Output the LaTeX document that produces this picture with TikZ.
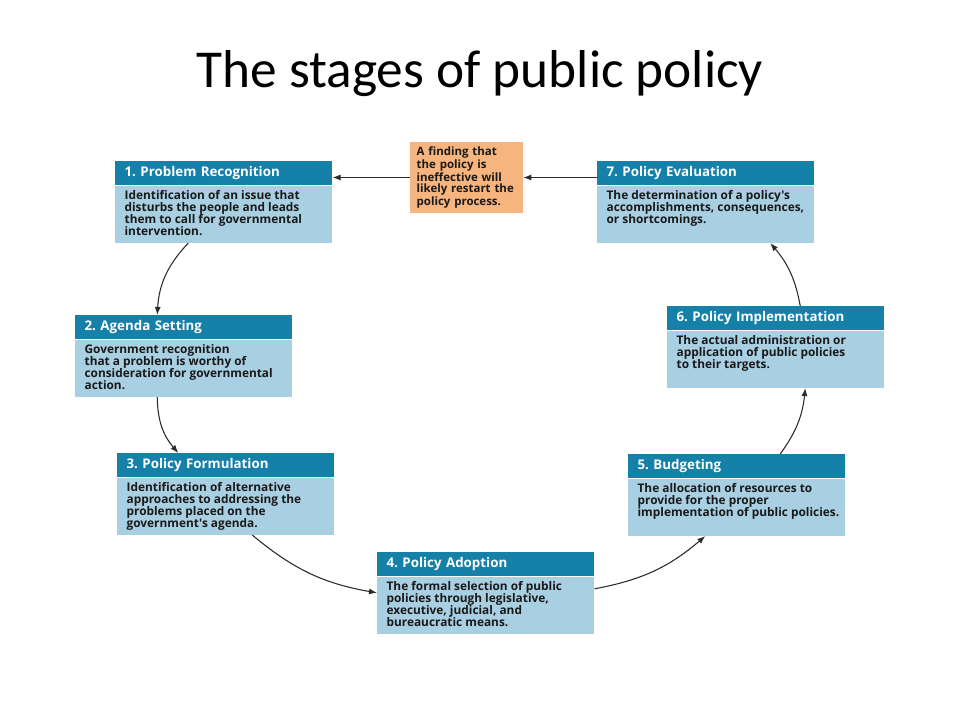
\documentclass[tikz,border=0pt]{standalone}
\usepackage{fontspec}
\setmainfont{Carlito}
\newfontfamily\boxfont{Open Sans}
\usetikzlibrary{positioning,arrows.meta}
\definecolor{headblue}{HTML}{1580A8}
\definecolor{bodyblue}{HTML}{A9CFE2}
\definecolor{findorange}{HTML}{F6B47E}
\definecolor{inkgray}{HTML}{2B2B2B}
\frenchspacing

\begin{document}
\begin{tikzpicture}[x=0.75pt,y=-0.75pt,
  head/.style={fill=headblue, text=white, anchor=north west, align=left,
    font=\boxfont\bfseries\fontsize{10}{10}\selectfont,
    text width=148.75pt, inner xsep=7pt, inner ysep=0pt, minimum height=18pt},
  body/.style={fill=bodyblue, text=black!90, inner xsep=7pt, inner ysep=3.4pt,
    font=\boxfont\bfseries\fontsize{8.9}{9}\selectfont,
    execute at begin node={\begin{minipage}[t][35.95pt][t]{148.75pt}\raggedright},
    execute at end node={\end{minipage}}},
  direct/.style={draw=inkgray, line width=0.8pt, -{Latex[length=6pt,width=4.5pt]}}]
\path[use as bounding box, fill=white] (0,0) rectangle (960,720);
\node[font=\fontsize{40}{48}\selectfont, anchor=base] (title) at (480,88) {The stages of public policy};

\node[head] (h1) at (115,161) {1. Problem Recognition};
\node[body, below=0pt of h1] (b1) {Identification of an issue that\\disturbs the people and leads\\them to call for governmental\\intervention.};
\node[head] (h2) at (75,315) {2. Agenda Setting};
\node[body, below=0pt of h2] (b2) {Government recognition\\that a problem is worthy of\\consideration for governmental\\action.};
\node[head] (h3) at (117,453) {3. Policy Formulation};
\node[body, below=0pt of h3] (b3) {Identification of alternative\\approaches to addressing the\\problems placed on the\\government's agenda.};
\node[head] (h4) at (377,552) {4. Policy Adoption};
\node[body, below=0pt of h4] (b4) {The formal selection of public\\policies through legislative,\\executive, judicial, and\\bureaucratic means.};
\node[head] (h5) at (628,454) {5. Budgeting};
\node[body, below=0pt of h5] (b5) {The allocation of resources to\\provide for the proper\\\mbox{implementation of public policies.}};
\node[head] (h6) at (667,306) {6. Policy Implementation};
\node[body, below=0pt of h6] (b6) {The actual administration or\\application of public policies\\to their targets.};
\node[head] (h7) at (597,161) {7. Policy Evaluation};
\node[body, below=0pt of h7] (b7) {The determination of a policy's\\accomplishments, consequences,\\or shortcomings.};
\node[fill=findorange, text=black!90, align=left, text width=74.75pt, inner xsep=5pt,
  minimum height=51.75pt, font=\boxfont\bfseries\fontsize{8.6}{8.4}\selectfont] (find) at (466.5,177.5)
  {A finding that\\the policy is\\ineffective will\\likely restart the\\policy process.};

\draw[direct] ([shift={(-35.5,0)}]b1.south) to[bend right=20] ([shift={(-26.5,0)}]h2.north);
\draw[direct] ([shift={(-26.5,0)}]b2.south) to[bend right=20] ([shift={(-47.5,0)}]h3.north);
\draw[direct] ([shift={(26.5,0)}]b3.south) to[bend right=15] ([shift={(0,-12.5)}]b4.west);
\draw[direct] ([shift={(0,-16.5)}]b4.east) to[bend right=15] ([shift={(-31.5,0)}]b5.south);
\draw[direct] ([shift={(43.5,0)}]h5.north) to[bend right=15] ([shift={(29.5,0)}]b6.south);
\draw[direct] ([shift={(24.5,0)}]h6.north) to[bend right=15] ([shift={(64.5,0)}]b7.south);
\draw[direct] (h7.west |- find.east) -- (find.east);
\draw[direct] (find.west) -- (find.west -| h1.east);
\end{tikzpicture}
\end{document}
